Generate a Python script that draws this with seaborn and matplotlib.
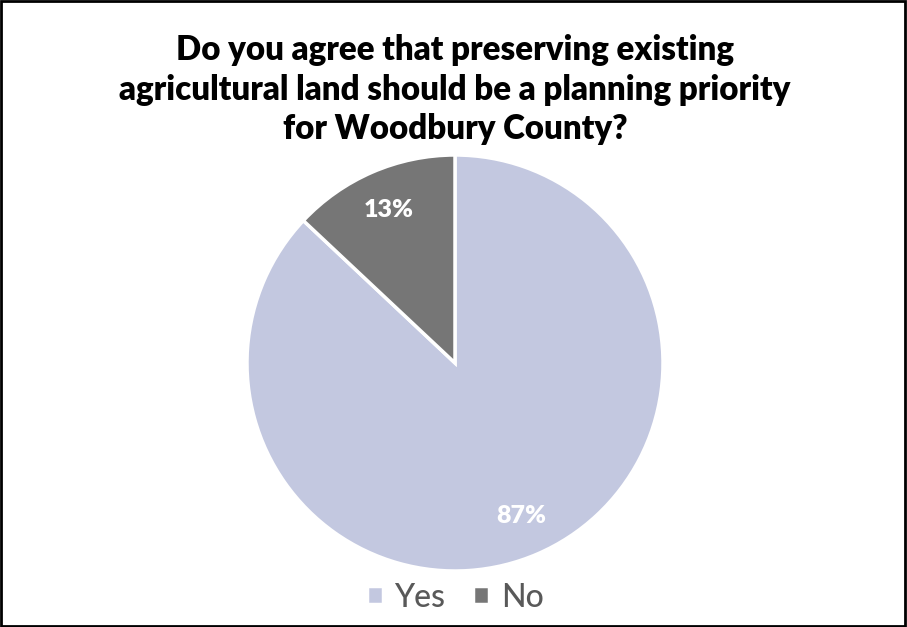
import matplotlib
matplotlib.use("Agg")
import matplotlib.pyplot as plt
import seaborn as sns
from matplotlib.patches import Rectangle

labels = ["Yes", "No"]
shares = [87, 13]
colors = ["#C3C8E0", "#767676"]
title = ("Do you agree that preserving existing\n"
         "agricultural land should be a planning priority\n"
         "for Woodbury County?")

sns.set_theme(style="white")
plt.rcParams["font.family"] = ["Lato", "DejaVu Sans"]

fig = plt.figure(figsize=(9.07, 6.27), dpi=100)
ax = fig.add_axes([0.2723, 0.0893, 0.4587, 0.6635])

wedges, texts, autotexts = ax.pie(
    shares, colors=colors, startangle=90, counterclock=False,
    autopct="%d%%", pctdistance=0.8,
    wedgeprops=dict(edgecolor="white", linewidth=2.5),
    textprops=dict(color="white", fontsize=18, fontweight="heavy"))
ax.set_xlim(-1, 1)
ax.set_ylim(-1, 1)
ax.set_aspect("equal")

fig.text(0.5017, 0.945, title, ha="center", va="top", fontsize=23.8,
         fontweight="heavy", color="black", linespacing=1.28)

fig.legend(wedges, labels, loc="center", bbox_to_anchor=(0.5017, 0.047),
           ncol=2, frameon=False, handlelength=0.5,
           handleheight=0.5, handletextpad=0.35, columnspacing=0.9,
           labelcolor="#595959", prop=dict(size=23, weight="medium"))

fig.patches.append(Rectangle((0.001, 0.001), 0.997, 0.997, transform=fig.transFigure,
                             fill=False, edgecolor="black", linewidth=2))

fig.savefig("out.png", dpi=100)
